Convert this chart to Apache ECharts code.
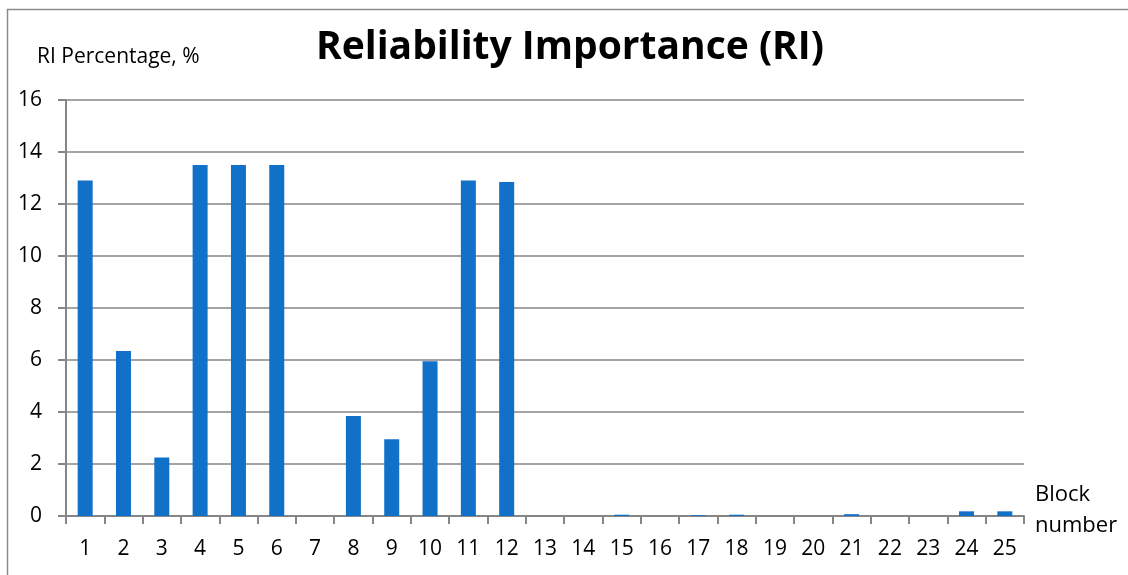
<!DOCTYPE html>
<html>
<head>
<meta charset="utf-8">
<script src="https://cdn.jsdelivr.net/npm/echarts@6/dist/echarts.min.js"></script>
<style>
  html, body { margin: 0; padding: 0; background: #fff; }
  #chart { width: 1128px; height: 575px; }
</style>
</head>
<body>
<div id="chart"></div>
<script>
// Block numbers along the horizontal axis
const blocks = ['1','2','3','4','5','6','7','8','9','10','11','12','13',
                '14','15','16','17','18','19','20','21','22','23','24','25'];
// Reliability importance of each block, percent
const riPercent = [12.9, 6.35, 2.25, 13.5, 13.5, 13.5, 0, 3.85, 2.95, 5.95, 12.9, 12.85, 0,
                   0, 0.05, 0, 0.03, 0.05, 0, 0, 0.07, 0, 0, 0.18, 0.18];
// Value axis range and step
const yMin = 0, yMax = 16, yStep = 2;

const FONT = '"Open Sans", Lato, sans-serif';
const GRAY = '#868686';

const chart = echarts.init(document.getElementById('chart'), null, { renderer: 'canvas' });
chart.setOption({
  animation: false,
  backgroundColor: '#ffffff',
  grid: { left: 66, right: 104, top: 100, bottom: 59, containLabel: false },
  xAxis: {
    type: 'category',
    data: blocks,
    boundaryGap: true,
    axisLine: { lineStyle: { color: GRAY, width: 2 } },
    axisTick: { show: true, length: 8, lineStyle: { color: GRAY, width: 2 }, alignWithLabel: false },
    axisLabel: { fontFamily: FONT, fontSize: 21, color: '#000', margin: 23, interval: 0 },
    splitLine: { show: false }
  },
  yAxis: {
    type: 'value',
    min: yMin, max: yMax, interval: yStep,
    axisLine: { show: true, lineStyle: { color: GRAY, width: 2 } },
    axisTick: { show: true, length: 8, lineStyle: { color: GRAY, width: 2 } },
    axisLabel: { fontFamily: FONT, fontSize: 21, color: '#000', margin: 24 },
    splitLine: { show: true, lineStyle: { color: GRAY, width: 1.5 } }
  },
  series: [{
    type: 'bar',
    data: riPercent,
    barWidth: 15,
    itemStyle: { color: '#1170C8' }
  }],
  graphic: [
    {
      type: 'rect', silent: true,
      shape: { x: 7.5, y: 9.5, width: 1200, height: 700 },
      style: { fill: 'none', stroke: '#8c8c8c', lineWidth: 1.5 }
    },
    {
      type: 'text', x: 570, y: 48,
      style: {
        text: 'Reliability Importance (RI)', fontFamily: FONT, fontWeight: 'bold',
        fontSize: 39, fill: '#000', align: 'center', verticalAlign: 'middle'
      }
    },
    {
      type: 'text', x: 37, y: 57,
      style: { text: 'RI Percentage, %', fontFamily: FONT, fontSize: 21, fill: '#000', verticalAlign: 'middle' }
    },
    {
      type: 'text', x: 1035, y: 495,
      style: { text: 'Block', fontFamily: FONT, fontSize: 22, fill: '#000', verticalAlign: 'middle' }
    },
    {
      type: 'text', x: 1035, y: 526,
      style: { text: 'number', fontFamily: FONT, fontSize: 22, fill: '#000', verticalAlign: 'middle' }
    }
  ]
});
</script>
</body>
</html>
